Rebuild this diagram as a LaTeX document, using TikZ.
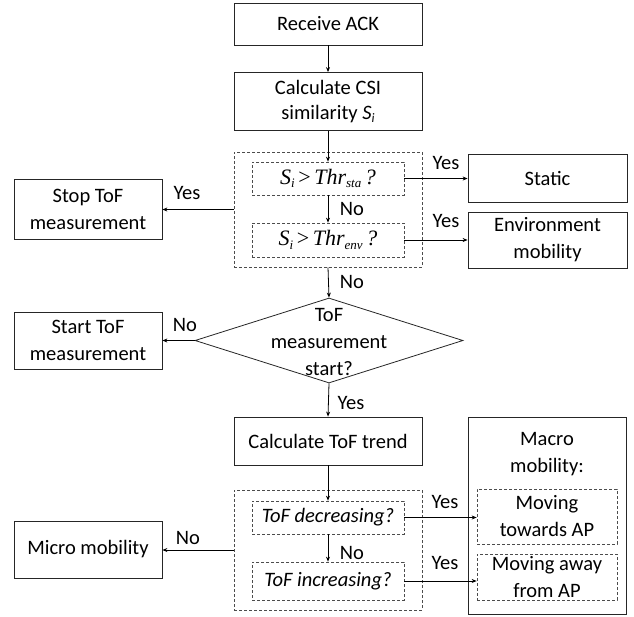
\documentclass[tikz,border=0pt]{standalone}
\usepackage{fontspec}
\setmainfont{Carlito}
\newfontfamily\tms{Liberation Serif}
\usetikzlibrary{shapes.geometric,arrows.meta}
\newcommand{\sub}[1]{\raisebox{-0.35ex}{\fontsize{13}{13}\selectfont #1}}
\newcommand{\thrtext}[1]{{\tms\itshape S\sub{i}\,{\upshape >}\,Thr\sub{#1}\,?}}
\begin{document}
\begin{tikzpicture}[x=1pt,y=-1pt,
  font=\fontsize{20.5}{27}\selectfont,
  box/.style={draw=black!85, line width=0.8pt, align=center, inner sep=0pt},
  dbox/.style={draw=black!70, line width=0.7pt, dash pattern=on 3pt off 2pt, align=center, inner sep=0pt},
  arr/.style={draw=black, line width=0.8pt, -{Stealth[length=5pt,width=4pt]}},
  lbl/.style={inner sep=0pt}]
\useasboundingbox (0,0) rectangle (634,616);
\fill[white] (0,0) rectangle (634,616);
% top chain
\node[box, minimum width=188pt, minimum height=42pt] (recv) at (328,24) {Receive ACK};
\node[box, minimum width=188pt, minimum height=58pt] (csi) at (328,101.5) {Calculate CSI\\[-2pt]similarity \textit{S}\sub{\textit{i}}};
% first dashed group
\node[dbox, minimum width=188pt, minimum height=115pt] (out1) at (328,209.5) {};
\node[dbox, minimum width=152pt, minimum height=33pt] (in1) at (328,178.5) {\fontsize{22}{22}\selectfont\thrtext{sta}};
\node[dbox, minimum width=152pt, minimum height=34pt] (in2) at (328,240) {\fontsize{22}{22}\selectfont\thrtext{env}};
\node[box, minimum width=148pt, minimum height=60pt] (stop) at (88,209) {Stop ToF\\measurement};
\node[box, minimum width=159pt, minimum height=48pt] (static) at (547.5,178) {Static};
\node[box, minimum width=159pt, minimum height=56pt] (env) at (547.5,240) {Environment\\mobility};
% diamond
\node[diamond, draw=black!85, line width=0.8pt, minimum width=268pt, minimum height=85pt, inner sep=0pt] (dia) at (329,340.5) {};
\node[lbl, align=center] (diatext) at (329,342) {ToF\\measurement\\start?};
\node[box, minimum width=148pt, minimum height=57pt] (start) at (88,340.5) {Start ToF\\measurement};
% bottom part
\node[box, minimum width=188pt, minimum height=48pt] (trend) at (328,441) {Calculate ToF trend};
\node[dbox, minimum width=188pt, minimum height=120pt] (out2) at (328,550) {};
\node[dbox, minimum width=152pt, minimum height=33pt] (in3) at (328,517.5) {\textit{ToF decreasing?}};
\node[dbox, minimum width=152pt, minimum height=38pt] (in4) at (328,581) {\textit{ToF increasing?}};
\node[box, minimum width=148pt, minimum height=57pt] (micro) at (88,549.5) {Micro mobility};
\node[box, minimum width=158pt, minimum height=197pt] (macro) at (547,515.5) {};
\node[lbl, align=center] (macrotext) at (547,454) {Macro\\mobility:};
\node[dbox, minimum width=140pt, minimum height=55pt] (mv1) at (547,516.5) {Moving\\towards AP};
\node[dbox, minimum width=140pt, minimum height=46pt] (mv2) at (547,577) {Moving away\\from AP};
% connectors
\draw[arr] (recv.south) -- (csi.south |- recv.south) -- (csi.north);
\draw[arr] (csi.south) -- (in1.north);
\draw[arr] (in1.south) -- (in2.north);
\draw[arr] (out1.west) -- (stop.east |- out1.west);
\draw[arr] (in1.east) -- (static.west |- in1.east);
\draw[arr] (in2.east) -- (env.west |- in2.east);
\draw[arr] (out1.south) -- (dia.north);
\draw[arr] (dia.west) -- (start.east |- dia.west);
\draw[arr] (dia.south) -- (trend.north);
\draw[arr] (trend.south) -- (in3.north);
\draw[arr] (in3.south) -- (in4.north);
\draw[arr] (out2.west) -- (micro.east |- out2.west);
\draw[arr] (in3.east) -- (mv1.west |- in3.east);
\draw[arr] (in4.east) -- (mv2.west |- in4.east);
% labels
\node[lbl] (l1) at (187,193) {Yes};
\node[lbl] (l2) at (446,163) {Yes};
\node[lbl] (l3) at (446,221) {Yes};
\node[lbl] (l4) at (352,209) {No};
\node[lbl] (l5) at (352,282) {No};
\node[lbl] (l6) at (185,325) {No};
\node[lbl] (l7) at (351,403) {Yes};
\node[lbl] (l8) at (352,553) {No};
\node[lbl] (l9) at (188,538) {No};
\node[lbl] (l10) at (445,502) {Yes};
\node[lbl] (l11) at (445,563) {Yes};
\end{tikzpicture}
\end{document}
